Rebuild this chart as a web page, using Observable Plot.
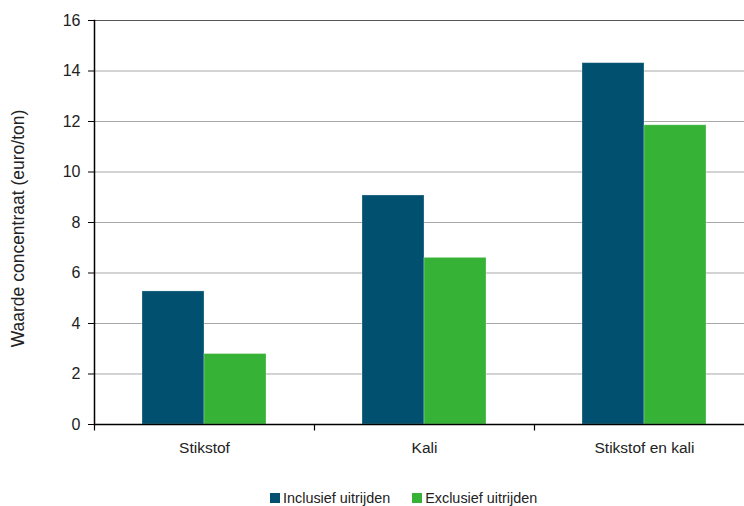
<!DOCTYPE html>
<html>
<head>
<meta charset="utf-8">
<script src="https://cdn.jsdelivr.net/npm/d3@7"></script>
<script src="https://cdn.jsdelivr.net/npm/@observablehq/plot@0.6"></script>
<style>
  html, body { margin: 0; padding: 0; background: #fff; }
  #chart { width: 744px; }
  .legend {
    font-family: "Liberation Sans", Arial, sans-serif;
    font-size: 14.4px;
    color: #222;
    height: 20px;
    line-height: 20px;
    margin-top: 2px;
    padding-left: 270px;
    display: flex;
    align-items: center;
  }
  .legend .item { display: flex; align-items: center; margin-right: 22px; }
  .legend .swatch { width: 10px; height: 10px; margin-right: 3px; }
</style>
</head>
<body>
<div id="chart"></div>
<script>
// Value of concentrate per nutrient, with and without spreading costs
const categories = ["Stikstof", "Kali", "Stikstof en kali"];
const series = ["Inclusief uitrijden", "Exclusief uitrijden"];
const inclusief = [5.27, 9.07, 14.31];
const exclusief = [2.79, 6.60, 11.85];
const yTicks = [0, 2, 4, 6, 8, 10, 12, 14, 16];
const colors = ["#02506f", "#36b236"];
const yLabel = "Waarde concentraat (euro/ton)";

const rows = categories.flatMap((c, i) => [
  {category: c, series: series[0], value: inclusief[i]},
  {category: c, series: series[1], value: exclusief[i]}
]);

// short downward tick at the left edge of each category band
const boundaryTick = {
  draw(context) {
    context.moveTo(0, 0);
    context.lineTo(0, 6);
  }
};

const chart = Plot.plot({
  width: 744,
  height: 486,
  marginLeft: 94,
  marginRight: -10,
  marginTop: 20,
  marginBottom: 62,
  style: {fontFamily: "Liberation Sans, Arial, sans-serif", fontSize: "15.5px", color: "#222"},
  fx: {domain: categories, padding: 0, label: null},
  x: {domain: series, paddingInner: 0, paddingOuter: 0.76, axis: null},
  y: {domain: [0, 16], label: null},
  color: {domain: series, range: colors},
  marks: [
    Plot.ruleY(yTicks.filter(d => d > 0 && d < 16), {stroke: "#a8a8a8", strokeWidth: 1.2}),
    Plot.ruleY([16], {stroke: "#555", strokeWidth: 1.2}),
    Plot.barY(rows, {fx: "category", x: "series", y: "value", fill: "series", stroke: "#ffffff", strokeOpacity: 0.35, strokeWidth: 0.8}),
    Plot.ruleY([0], {stroke: "#000", strokeWidth: 1.5}),
    Plot.frame({anchor: "left", stroke: "#000", strokeWidth: 1.5, facetAnchor: "left"}),
    Plot.dot([0], {frameAnchor: "bottom-left", symbol: boundaryTick, stroke: "#000", strokeWidth: 1.2, fill: "none"}),
    Plot.axisY({ticks: yTicks, tickSize: 6, tickPadding: 8, tickFormat: d => d, label: null, stroke: "#000", fontSize: 16}),
    Plot.axisFx({anchor: "bottom", tickSize: 0, tickPadding: 17, label: null}),
    Plot.text([yLabel], {frameAnchor: "left", rotate: -90, dx: -76, dy: 6, textAnchor: "middle", lineAnchor: "middle", fontSize: 17.5, facetAnchor: "left", fill: "#222"})
  ]
});

document.getElementById("chart").append(chart);

const legend = document.createElement("div");
legend.className = "legend";
series.forEach((s, i) => {
  const item = document.createElement("div");
  item.className = "item";
  const sw = document.createElement("div");
  sw.className = "swatch";
  sw.style.background = colors[i];
  const label = document.createElement("span");
  label.textContent = s;
  item.append(sw, label);
  legend.append(item);
});
document.getElementById("chart").append(legend);
</script>
</body>
</html>
